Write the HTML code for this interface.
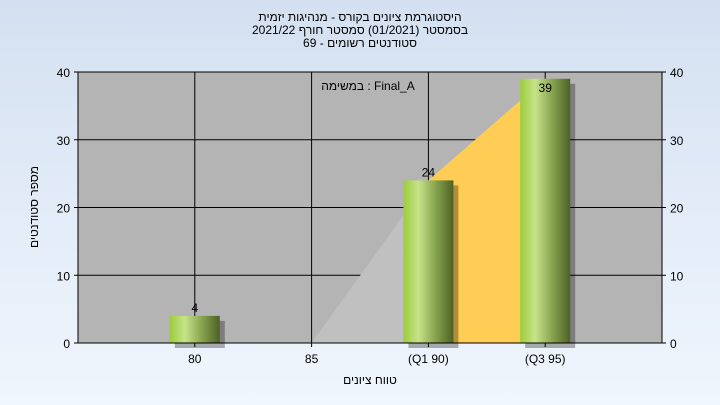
<!DOCTYPE html>
<html><head><meta charset="utf-8"><style>
html,body{margin:0;padding:0}
body{width:720px;height:405px;overflow:hidden;background:linear-gradient(#d4e0f1,#f0f6fd);font-family:"Liberation Sans","Noto Sans CJK SC",sans-serif}
svg{display:block}
</style></head><body>
<svg id="chart" width="720" height="405" xmlns="http://www.w3.org/2000/svg" font-family="Liberation Sans, Noto Sans CJK SC, sans-serif">
<defs>
<linearGradient id="barg" x1="0" x2="1" y1="0" y2="0">
<stop offset="0" stop-color="#9ccc3c"/><stop offset="0.3" stop-color="#c6e38a"/><stop offset="0.65" stop-color="#86a24e"/><stop offset="1" stop-color="#4c6224"/>
</linearGradient>
</defs>
<g font-size="12" text-anchor="middle" fill="#000">
<text x="360" y="21" direction="rtl">היסטוגרמת ציונים בקורס - מנהיגות יזמית</text>
<text x="360" y="34">בסמסטר  (01/2021)  סמסטר חורף 2021/22</text>
<text x="360" y="47">סטודנטים רשומים - 69</text>
</g>
<rect x="78" y="72" width="584" height="271" fill="#b4b4b4"/>
<g id="grid"></g>
<g id="areas"></g>
<g id="bars"></g>
<text x="368" y="90" font-size="12" text-anchor="middle">במשימה : Final_A</text>
<g id="axes"></g>
<text x="370" y="384" font-size="12" text-anchor="middle">טווח ציונים</text>
<text transform="translate(38,207) rotate(-90)" font-size="12" text-anchor="middle">מספר סטודנטים</text>
</svg>
<script>
const categories = ["80","85","(Q1 90)","(Q3 95)"];
const counts = [4,0,24,39];
const yTicks = [0,10,20,30,40];
const NS="http://www.w3.org/2000/svg";
const L=78,R=662,T=72,B=343,YMAX=40;
const slot=(R-L)/(categories.length+1);
function xS(i){return L+slot*(i+1);}
function yS(v){return B-(v/YMAX)*(B-T);}
function mk(tag,attrs,parent){const e=document.createElementNS(NS,tag);for(const k in attrs)e.setAttribute(k,attrs[k]);parent.appendChild(e);return e;}
const areas=document.getElementById('areas'),grid=document.getElementById('grid'),bars=document.getElementById('bars'),axes=document.getElementById('axes');
for(let i=1;i<categories.length-1;i++){
  const p=mk('polygon',{points:`${xS(i)},${B} ${xS(i)},${yS(counts[i])} ${xS(i+1)},${yS(counts[i+1])} ${xS(i+1)},${B}`,fill:i===categories.length-2?'#ffcc55':'#c0c0c0'},areas);
  
  
}
yTicks.forEach(t=>{
  const y=yS(t);
  const g=mk('line',{x1:L,x2:R,y1:y,y2:y,stroke:'#000','stroke-width':1},grid);
  
  
  const a=mk('text',{x:L-8,y:y+5,'font-size':12,'text-anchor':'end'},axes);a.textContent=t;
  
  
  const b=mk('text',{x:R+8,y:y+5,'font-size':12},axes);b.textContent=t;
  
  
  mk('line',{x1:L-4,x2:L,y1:y,y2:y,stroke:'#000'},axes);
  mk('line',{x1:R,x2:R+4,y1:y,y2:y,stroke:'#000'},axes);
});
categories.forEach((c,i)=>{
  const x=xS(i);
  const g=mk('line',{x1:x,x2:x,y1:T,y2:B,stroke:'#000'},grid);
  
  
  mk('line',{x1:x,x2:x,y1:B,y2:B+4,stroke:'#000'},axes);
  const t=mk('text',{x:x,y:B+20,'font-size':12,'text-anchor':'middle'},axes);t.textContent=c;
  
  
  const v=counts[i];
  if(v>0){
    const w=50,y=yS(v);
    const sh=mk('rect',{x:x-w/2+5,y:y+5,width:w,height:B-y,fill:'#000',opacity:0.3},bars);
    
    
    const r=mk('rect',{x:x-w/2,y:y,width:w,height:B-y,fill:'url(#barg)'},bars);
    
    
    const lt=mk('text',{x:x,y:v>30?y+13:y-4,'font-size':12,'text-anchor':'middle'},bars);lt.textContent=v;
    
    
  }
});
mk('line',{x1:L,x2:L,y1:T,y2:B,stroke:'#000'},axes);
mk('line',{x1:R,x2:R,y1:T,y2:B,stroke:'#000'},axes);
mk('line',{x1:L,x2:R,y1:B,y2:B,stroke:'#000'},axes);
</script>
</body></html>
